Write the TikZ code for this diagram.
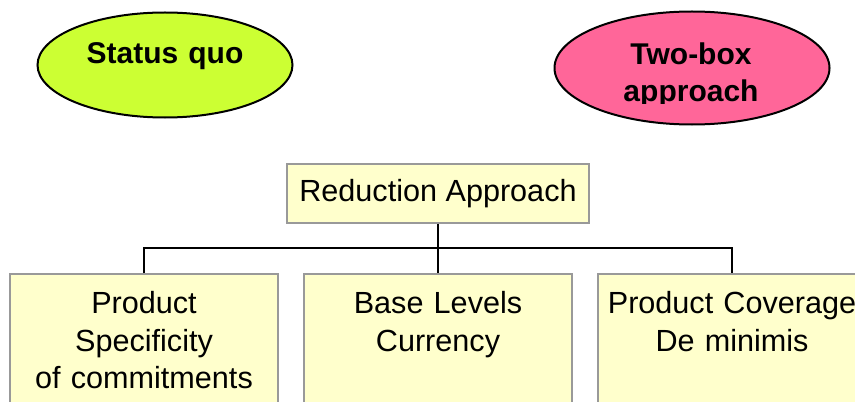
\documentclass[tikz,border=0pt]{standalone}
\usepackage{fontspec}
\setmainfont{Liberation Sans}
\usetikzlibrary{shapes,positioning}
\definecolor{limefill}{HTML}{CCFF33}
\definecolor{pinkfill}{HTML}{FF6699}
\definecolor{paleyellow}{HTML}{FFFFCC}
\definecolor{boxline}{HTML}{999999}

\begin{document}
\begin{tikzpicture}[x=0.5pt,y=-0.5pt,
    oval/.style={draw,ellipse,line width=1pt,inner sep=0pt},
    ovaltext/.style={anchor=base,text width=130pt,align=center,inner sep=0pt,
      font=\fontsize{15}{18}\selectfont\bfseries},
    topic/.style={draw=boxline,fill=paleyellow,line width=0.8pt,
      font=\fontsize{15.3}{18.75}\selectfont},
    branch/.style={topic,anchor=north,text width=128pt,inner xsep=3pt,inner ysep=9pt,
      align=center,text height=11pt,text depth=100pt}]
      \useasboundingbox (0,0) rectangle (855,401);
      \clip (0,0) rectangle (855,401);
      \node[oval,fill=limefill,minimum width=127.5pt,minimum height=52.5pt] (statusquo) at (165,65) {};
      \node[ovaltext] (statusquotext) at (165,64) {Status quo};
      \node[oval,fill=pinkfill,minimum width=137.5pt,minimum height=56.5pt] (twobox) at (692,68) {};
      \begin{scope}
        \clip (555,0) rectangle (830,103);
        \node[ovaltext] (twoboxtext) at (691,65) {Two-box\\approach};
      \end{scope}
      \node[topic,minimum width=151pt,minimum height=29.5pt,inner sep=0pt] (reduction) at (438,193.5) {Reduction Approach};
      \node[branch] (specificity) at (144,273) {Product\\Specificity\\of commitments};
      \node[branch] (baselevels) at (438,273) {Base Levels\\Currency};
      \node[branch] (coverage) at (732,273) {Product Coverage\\De minimis};
      \coordinate (bar) at (438,248);
      \draw[line width=1pt] (reduction) -- (bar);
      \draw[line width=1pt] (specificity.north) |- (bar) -| (coverage.north);
      \draw[line width=1pt] (bar) -- (baselevels);
\end{tikzpicture}
\end{document}
